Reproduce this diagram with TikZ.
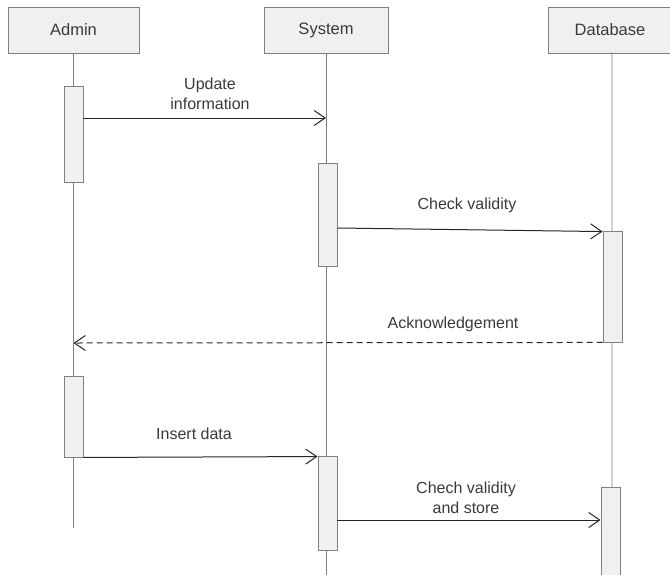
\documentclass[tikz,border=0pt]{standalone}
\usepackage{fontspec}
\setmainfont{Liberation Sans}
\usetikzlibrary{arrows.meta,calc}
\definecolor{lineGray}{HTML}{808080}
\definecolor{fillGray}{HTML}{F0F0F0}
\definecolor{textGray}{HTML}{3A3A3A}

\begin{document}
\begin{tikzpicture}[x=1pt,y=-1pt,>={Straight Barb[length=11pt,width=15pt]},
  head/.style={draw=lineGray,fill=fillGray,line width=0.9pt,minimum height=46pt,
    font=\fontsize{16.5}{19}\selectfont,text=textGray},
  act/.style={draw=lineGray,fill=fillGray,line width=0.9pt,minimum width=19pt,inner sep=0pt},
  life/.style={lineGray,line width=0.9pt},
  msg/.style={->,line width=1pt,black!85},
  lbl/.style={font=\fontsize{16}{20}\selectfont,text=textGray,align=center}]
  \useasboundingbox (0,0) rectangle (670,574);
  % participants
  \node[head,minimum width=131pt] (admin) at (73.5,30) {Admin};
  \node[head,minimum width=124pt] (sys) at (326,30) {System};
  \node[head,minimum width=124pt] (db) at (610,30) {Database};
  % lifelines
  \coordinate (adminEnd) at (73,528);
  \coordinate (sysEnd) at (327,576);
  \coordinate (dbEnd) at (612,576);
  \draw[life] (admin.south |- 0,53) -- (admin.south |- adminEnd);
  \draw[life] (sys.south |- 0,53) -- (sys.south |- sysEnd);
  \draw[life] (db.south |- 0,53) -- (dbEnd |- db.south) -- (dbEnd);
  % activations
  \node[act,minimum height=96pt] (a1) at (73.5,134) {};
  \node[act,minimum height=103pt] (s1) at (327.5,214.5) {};
  \node[act,minimum height=111pt] (d1) at (612.5,286.5) {};
  \node[act,minimum height=81pt] (a2) at (73.5,416.5) {};
  \node[act,minimum height=94pt] (s2) at (327.5,503) {};
  \node[act,minimum height=92pt] (d2) at (610.5,533) {};
  % messages
  \draw[msg] (a1.east |- 0,118) -- (sys.south |- 0,118);
  \node[lbl] (l1) at (210,94) {Update\\information};
  \draw[msg] (s1.east |- 0,228) -- ([yshift=-1pt]d1.north west);
  \node[lbl] (l2) at (467,205) {Check validity};
  \draw[->,line width=1pt,black!85,dash pattern=on 6pt off 4pt] (d1.south west) -- (admin.south |- 0,343);
  \node[lbl] (l3) at (453,324) {Acknowledgement};
  \draw[msg] (a2.south east) -- ([yshift=-1pt]s2.north west);
  \node[lbl] (l4) at (194,434) {Insert data};
  \draw[msg] (s2.east |- 0,520) -- (d2.west |- 0,520);
  \node[lbl] (l5) at (466,498) {Chech validity\\and store};
\end{tikzpicture}
\end{document}
